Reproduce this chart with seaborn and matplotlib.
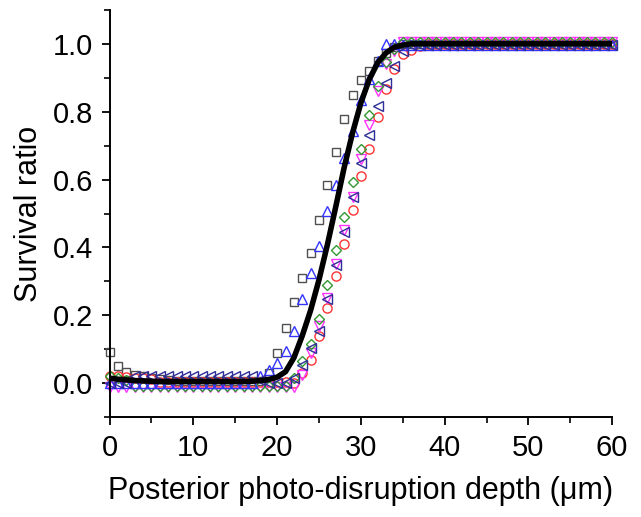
import numpy as np
import pandas as pd
import matplotlib
matplotlib.use("Agg")
import matplotlib.pyplot as plt
import seaborn as sns
from matplotlib.ticker import MultipleLocator

# depth values, 1 um step
depth = list(range(0, 61))

flat_one = [1.0] * 26

sq_gray = [0.093, 0.052, 0.034, 0.025, 0.02, 0.015, 0.012, 0.01, 0.008, 0.008,
           0.008, 0.008, 0.008, 0.008, 0.008, 0.008, 0.008, 0.008, 0.008, 0.03,
           0.09, 0.164, 0.238, 0.31, 0.383, 0.48, 0.583, 0.68, 0.777, 0.85,
           0.893, 0.92, 0.95, 0.973, 0.99] + flat_one

circ_red = [0.02, 0.02, 0.018, 0.015, 0.015, 0.012, 0.005, 0.005, 0.005, 0.005,
            0.005, 0.005, 0.005, 0.005, 0.005, 0.005, 0.005, 0.005, 0.005, 0.005,
            0.005, 0.005, 0.0, 0.03, 0.069, 0.138, 0.221, 0.315, 0.41, 0.509,
            0.61, 0.69, 0.785, 0.867, 0.926, 0.971, 0.983, 0.993] + [1.0] * 23

tri_up_blue = [0.0] * 18 + [0.02, 0.039, 0.059, 0.095, 0.154, 0.248, 0.326, 0.405,
               0.506, 0.585, 0.664, 0.742, 0.834, 0.895, 0.949, 1.0, 1.0] + [0.997] * 26

tri_down_mag = [-0.01] * 23 + [0.025, 0.09, 0.17, 0.25, 0.35, 0.45, 0.55, 0.66,
                0.76, 0.86, 0.94, 0.98] + [1.005] * 26

diam_green = [0.02, 0.015, 0.01] + [-0.008] * 19 + [0.015, 0.066, 0.115, 0.19,
              0.29, 0.393, 0.49, 0.592, 0.69, 0.791, 0.875, 0.945, 0.985] + [1.005] * 26

tri_left_navy = [0.0, 0.0, 0.0] + [0.02] * 15 + [0.01, 0.0, 0.0, 0.0, 0.015, 0.054,
                 0.103, 0.153, 0.248, 0.347, 0.447, 0.549, 0.649, 0.73, 0.816,
                 0.885, 0.934, 0.98, 0.995] + [0.995] * 24

fit_line = [0.015, 0.012, 0.01, 0.008, 0.007, 0.006, 0.005, 0.005, 0.005, 0.005,
            0.005, 0.005, 0.005, 0.005, 0.005, 0.005, 0.005, 0.006, 0.008, 0.011,
            0.018, 0.034, 0.075, 0.14, 0.215, 0.305, 0.408, 0.52, 0.635, 0.737,
            0.826, 0.895, 0.944, 0.973, 0.99, 0.996] + [1.0] * 25

# (values, marker, colour, marker size in pt)
series = [
    (sq_gray, "s", "#505050", 6.3),
    (circ_red, "o", "#ff3333", 6.6),
    (tri_down_mag, "v", "#ff33ff", 7.8),
    (diam_green, "D", "#339933", 5.4),
    (tri_up_blue, "^", "#3333ff", 7.8),
    (tri_left_navy, "<", "#2e2e99", 7.8),
]

sns.set_style("ticks")
plt.rcParams["font.family"] = ["Liberation Sans", "DejaVu Sans"]

fig = plt.figure(figsize=(6.41, 5.17), dpi=100)
ax = fig.add_axes([0.171, 0.193, 0.784, 0.788])

for vals, mk, col, ms in series:
    sns.lineplot(x=depth, y=vals, ax=ax, marker=mk, linestyle="none",
                 markersize=ms, markerfacecolor="none", markeredgecolor=col,
                 markeredgewidth=1.0, color=col, clip_on=False)

sns.lineplot(x=depth, y=fit_line, ax=ax, color="black", linewidth=4.0, zorder=5)

ax.set_xlim(0, 60)
ax.set_ylim(-0.1, 1.1)
ax.xaxis.set_major_locator(MultipleLocator(10))
ax.xaxis.set_minor_locator(MultipleLocator(5))
ax.yaxis.set_minor_locator(MultipleLocator(0.1))
ax.set_yticks([0.0, 0.2, 0.4, 0.6, 0.8, 1.0])
ax.set_yticklabels(["0.0", "0.2", "0.4", "0.6", "0.8", "1.0"])

for side in ["top", "right"]:
    ax.spines[side].set_visible(False)
for side in ["left", "bottom"]:
    ax.spines[side].set_linewidth(1.4)
    ax.spines[side].set_color("black")

ax.tick_params(which="major", direction="out", length=6, width=1.3,
               labelsize=21, colors="black", labelcolor="black", pad=6)
ax.tick_params(which="minor", direction="out", length=4, width=1.2, colors="black")

ax.set_xlabel("Posterior photo-disruption depth (\u03bcm)", fontsize=22,
              labelpad=10, color="black")
ax.set_ylabel("Survival ratio", fontsize=22, labelpad=6, color="black")

fig.savefig("out.png", dpi=100)
